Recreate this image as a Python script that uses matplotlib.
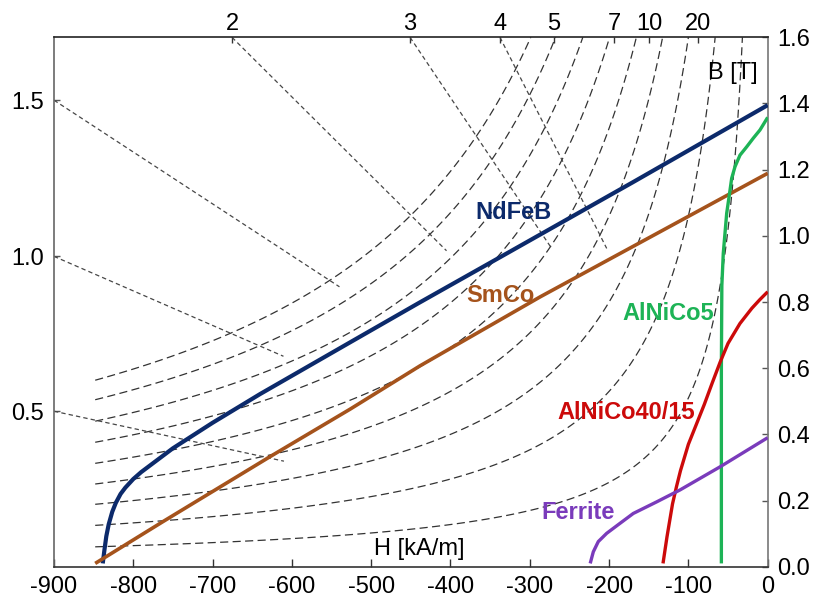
import numpy as np
import matplotlib.pyplot as plt

plt.rcParams['font.family'] = ['Liberation Sans', 'DejaVu Sans']
plt.rcParams['axes.unicode_minus'] = False

# demagnetisation curves (H in kA/m, B in T)
ndfeb_h = [0, -170, -340, -440, -526.7, -640, -700, -750, -790, -800, -810, -816,
           -822, -826.5, -831, -834, -836.5, -838.5]
ndfeb_b = [1.395, 1.162, 0.932, 0.797, 0.678, 0.522, 0.435, 0.358, 0.286, 0.265, 0.239, 0.220,
           0.193, 0.166, 0.128, 0.092, 0.048, 0.01]

smco_h = [0, -286.6, -438.5, -526.7, -628, -762.8, -848]
smco_b = [1.189, 0.816, 0.607, 0.476, 0.332, 0.136, 0.01]

alnico5_h = [0, -9.7, -18.2, -26.5, -34.9, -41.2, -45.4, -47.5, -51.7, -56, -57.8, -58.4, -58.4]
alnico5_b = [1.358, 1.32, 1.295, 1.269, 1.244, 1.209, 1.174, 1.138, 1.068, 0.947, 0.85, 0.6, 0.01]

alnico40_h = [0, -10, -20, -35, -50, -60, -70, -80, -90, -100, -110, -115, -120, -127, -132]
alnico40_b = [0.831, 0.807, 0.781, 0.735, 0.675, 0.618, 0.555, 0.49, 0.43, 0.37, 0.29, 0.242, 0.19, 0.09, 0.01]

ferrite_h = [0, -60, -110.6, -140, -169.5, -186.3, -203, -213.6, -219.9, -223.8]
ferrite_b = [0.39, 0.302, 0.232, 0.196, 0.161, 0.131, 0.101, 0.076, 0.045, 0.01]

# constant energy product curves (kJ/m3)
energy_levels = [51, 106, 160, 212, 265, 319, 373, 428, 478]

# load line segments through the origin (start / end)
load_h0 = [-675.5, -451, -337.6, -900, -900, -900]
load_b0 = [1.6, 1.6, 1.6, 1.41, 0.938, 0.470]
load_h1 = [-405, -272.4, -203, -540, -610.6, -610]
load_b1 = [0.955, 0.962, 0.962, 0.846, 0.636, 0.319]

# axis ticks
bottom_ticks = [-900, -800, -700, -600, -500, -400, -300, -200, -100, 0]
right_ticks = [0.0, 0.2, 0.4, 0.6, 0.8, 1.0, 1.2, 1.4, 1.6]
top_tick_h = [-675.5, -451, -337.6, -270, -193.8, -149.7, -88.3]
top_tick_labels = ['2', '3', '4', '5', '7', '10', '20']
left_tick_b = [0.470, 0.938, 1.410]
left_tick_labels = ['0.5', '1.0', '1.5']

fig = plt.figure(figsize=(8.14, 5.98), dpi=100)
ax = fig.add_axes([0.0663, 0.0523, 0.8768, 0.8853])
ax.set_xlim(-900, 0)
ax.set_ylim(0, 1.6)

#energy product hyperbolas
hh, bb = np.meshgrid(np.linspace(-848, -0.5, 800), np.linspace(0.001, 1.6, 800))
cs = ax.contour(hh, bb, -hh * bb, levels=energy_levels, colors='#333333', linewidths=0.9)
cs.set_linestyle((0, (6.5, 3.5)))

#load lines
for h0, b0, h1, b1 in zip(load_h0, load_b0, load_h1, load_b1):
    ax.plot([h0, h1], [b0, b1], color='#474747', lw=0.9, ls=(0, (3.5, 2.5)))

#materials
curves = [
    (ndfeb_h, ndfeb_b, '#0c2a6b', 3.0),
    (smco_h, smco_b, '#a5531c', 2.6),
    (alnico5_h, alnico5_b, '#1db356', 2.4),
    (alnico40_h, alnico40_b, '#cc0a0a', 2.4),
    (ferrite_h, ferrite_b, '#7a3bbb', 2.4),
]
for h, b, c, w in curves:
    ax.plot(h, b, color=c, lw=w, solid_capstyle='butt', solid_joinstyle='round', zorder=5)

lab = dict(fontsize=17, fontweight='bold', ha='center', va='center', zorder=6)
ax.text(-321, 1.072, 'NdFeB', color='#0c2a6b', **lab)
ax.text(-337, 0.820, 'SmCo', color='#a5531c', **lab)
ax.text(-125, 0.764, 'AlNiCo5', color='#1db356', **lab)
ax.text(-179, 0.466, 'AlNiCo40/15', color='#cc0a0a', **lab)
ax.text(-239, 0.164, 'Ferrite', color='#7a3bbb', **lab)
ax.text(-44, 1.491, 'B [T]', fontsize=17, ha='center', va='center')
ax.text(-440, 0.055, 'H [kA/m]', fontsize=17, ha='center', va='center')

# bottom and left ticks
ax.set_xticks(bottom_ticks, [str(t) for t in bottom_ticks])
ax.set_yticks(left_tick_b, left_tick_labels)
ax.tick_params(axis='x', direction='in', length=6, width=1, pad=7, labelsize=17, color='#333333')
ax.tick_params(axis='y', direction='in', length=4, width=1, pad=7, labelsize=17, color='#555555')

# right axis in tesla
ax_r = ax.secondary_yaxis('right')
ax_r.set_yticks(right_ticks, ['%.1f' % t for t in right_ticks])
ax_r.tick_params(direction='in', length=4, width=1, pad=7, labelsize=17, color='#555555')

# top axis
ax_t = ax.secondary_xaxis('top')
ax_t.set_xticks(top_tick_h, top_tick_labels)
ax_t.tick_params(direction='in', length=4, width=1, pad=2, labelsize=17, color='#333333')

for s, c in [('top', '#222222'), ('bottom', '#333333'), ('left', '#666666'), ('right', '#777777')]:
    ax.spines[s].set_color(c)
    ax.spines[s].set_linewidth(1.2)
for sa in [ax_r, ax_t]:
    for s in sa.spines.values():
        s.set_visible(False)

fig.savefig('out.png', dpi=100)
